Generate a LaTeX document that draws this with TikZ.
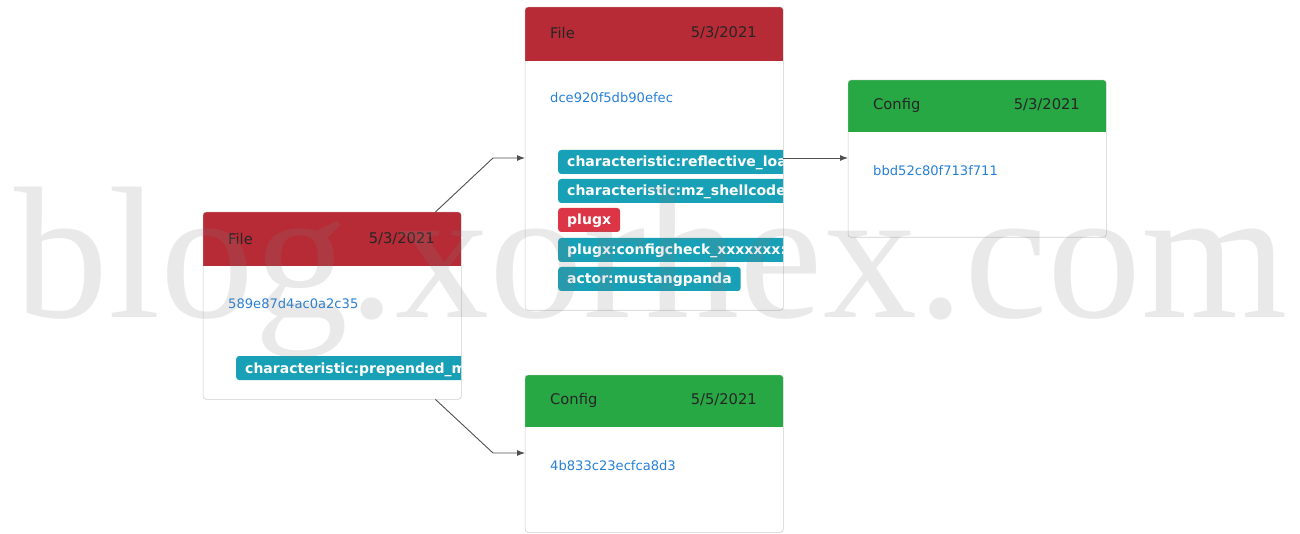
\documentclass[tikz,border=0pt]{standalone}
\usepackage{fontspec}
\setmainfont{DejaVu Sans}
\newfontfamily\markfont{Liberation Serif}
\usetikzlibrary{arrows.meta}
\definecolor{filered}{RGB}{183,43,54}
\definecolor{confgreen}{RGB}{40,167,69}
\definecolor{tagteal}{RGB}{23,160,182}
\definecolor{tagred}{RGB}{220,53,69}
\definecolor{hashblue}{RGB}{40,128,214}
\definecolor{cardline}{RGB}{214,214,214}
\definecolor{linkgray}{RGB}{80,80,80}
\begin{document}
\begin{tikzpicture}[x=1pt,y=-1pt]
    \tikzstyle{card}=[draw=cardline, fill=white, rounded corners=3pt, minimum width=258pt, inner sep=0pt, anchor=north west]
    \tikzstyle{head}=[font=\fontsize{14.7}{16}\selectfont, text=black!85, inner sep=0pt]
    \tikzstyle{hash}=[font=\fontsize{13.1}{15}\selectfont, text=hashblue, inner sep=0pt, anchor=west]
    \tikzstyle{tag}=[fill=tagteal, rounded corners=3pt, text=white, font=\bfseries\fontsize{14}{16}\selectfont, anchor=west, minimum height=24pt, text height=11pt, text depth=1pt, inner xsep=9pt, inner ysep=0pt]
    \tikzstyle{longtag}=[tag, text width=260pt, align=left]
    \tikzstyle{conn}=[linkgray, line width=0.9pt, -{Latex[length=8pt,width=6pt]}]

    \useasboundingbox[fill=white] (0,0) rectangle (1300,534);

    % cards
    \node[card, minimum height=187pt] (f1) at (203,212) {};
    \node[card, minimum height=303pt] (f2) at (525,7) {};
    \node[card, minimum height=157pt] (c1) at (848,80) {};
    \node[card, minimum height=157pt] (c2) at (525,375) {};

    % headers and tags
    \begin{scope}
        \clip[rounded corners=3pt] (f1.north west) rectangle (f1.south east);
        \fill[filered] (f1.north west) rectangle ++(258,54);
        \node[longtag] (p1) at (236,368) {characteristic:prepended\_m};
    \end{scope}
    \begin{scope}
        \clip[rounded corners=3pt] (f2.north west) rectangle (f2.south east);
        \fill[filered] (f2.north west) rectangle ++(258,54);
        \node[longtag] (r1) at (558,162) {characteristic:reflective\_loa};
        \node[longtag] (r2) at (558,191) {characteristic:mz\_shellcode};
        \node[tag, fill=tagred] (r3) at (558,220) {plugx};
        \node[longtag] (r4) at (558,250) {plugx:configcheck\_xxxxxxx:};
        \node[tag] (r5) at (558,279) {actor:mustangpanda};
    \end{scope}
    \begin{scope}
        \clip[rounded corners=3pt] (c1.north west) rectangle (c1.south east);
        \fill[confgreen] (c1.north west) rectangle ++(258,52);
    \end{scope}
    \begin{scope}
        \clip[rounded corners=3pt] (c2.north west) rectangle (c2.south east);
        \fill[confgreen] (c2.north west) rectangle ++(258,52);
    \end{scope}
    \foreach \c in {f1,f2,c1,c2}
        \draw[cardline, rounded corners=3pt] (\c.north west) rectangle (\c.south east);

    % header texts
    \node[head, anchor=west] (f1t) at (228,239) {File};
    \node[head, anchor=east] (f1d) at (435,239) {5/3/2021};
    \node[head, anchor=west] (f2t) at (550,33) {File};
    \node[head, anchor=east] (f2d) at (757,33) {5/3/2021};
    \node[head, anchor=west] (c1t) at (873,105) {Config};
    \node[head, anchor=east] (c1d) at (1080,105) {5/3/2021};
    \node[head, anchor=west] (c2t) at (550,400) {Config};
    \node[head, anchor=east] (c2d) at (757,400) {5/5/2021};

    % hashes
    \node[hash] (f1h) at (228,304) {589e87d4ac0a2c35};
    \node[hash] (f2h) at (550,98) {dce920f5db90efec};
    \node[hash] (c1h) at (873,171) {bbd52c80f713f711};
    \node[hash] (c2h) at (550,466) {4b833c23ecfca8d3};

    % links
    \coordinate (b1) at (493,158);
    \coordinate (b2) at (493,453);
    \draw[conn] ([xshift=-26pt]f1.north east) -- (b1) -- (f2.west |- b1);
    \draw[conn] ([xshift=-26pt]f1.south east) -- (b2) -- (c2.west |- b2);
    \draw[conn] (f2.east |- b1) -- (c1.west |- b1);

    % watermark
    \node[font=\markfont\fontsize{188}{188}\selectfont, text=gray, opacity=0.17, anchor=base, inner sep=0pt] (wm) at (651,318) {blog.xorhex.com};
\end{tikzpicture}
\end{document}
